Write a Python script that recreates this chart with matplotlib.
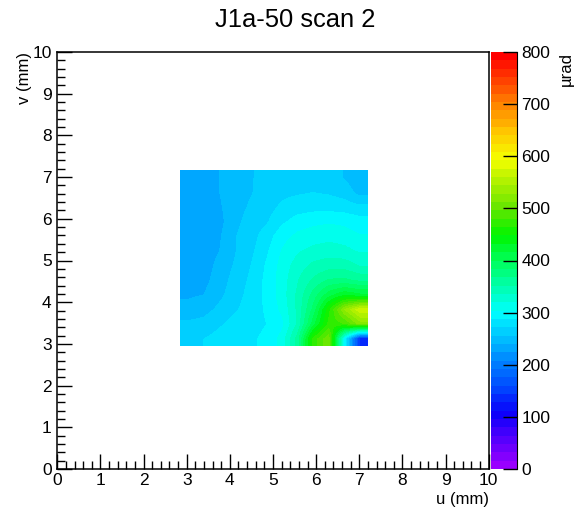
import numpy as np
import matplotlib
matplotlib.use("Agg")
import matplotlib.pyplot as plt
from matplotlib.colors import LinearSegmentedColormap, ListedColormap, Normalize
from matplotlib.ticker import MultipleLocator

plt.rcParams['font.family'] = ['Liberation Sans', 'DejaVu Sans']

title = "J1a-50 scan 2"
x_label = "u (mm)"
y_label = "v (mm)"
z_label = "µrad"

# cell centres of the measured map (mm)
u_centers = [3.03, 3.39, 3.76, 4.12, 4.48, 4.84, 5.21, 5.57, 5.93, 6.30, 6.66, 7.02]
v_centers = [6.98, 6.62, 6.28, 5.93, 5.58, 5.23, 4.88, 4.53, 4.18, 3.83, 3.48, 3.13]

# values (µrad), rows from top (v=6.98) to bottom (v=3.13)
row_698 = [235, 235, 240, 245, 255, 260, 265, 265, 265, 265, 255, 245]
row_662 = [230, 230, 240, 250, 255, 262, 268, 270, 272, 270, 265, 250]
row_628 = [228, 230, 238, 250, 258, 265, 275, 280, 282, 282, 280, 276]
row_593 = [225, 228, 235, 252, 262, 270, 285, 295, 300, 302, 300, 295]
row_558 = [225, 228, 238, 255, 265, 280, 298, 308, 312, 315, 312, 305]
row_523 = [228, 230, 240, 255, 268, 285, 305, 318, 325, 328, 325, 318]
row_488 = [230, 232, 245, 258, 272, 290, 310, 328, 340, 345, 345, 335]
row_453 = [232, 235, 248, 262, 275, 292, 312, 335, 355, 370, 372, 365]
row_418 = [238, 240, 252, 265, 278, 292, 312, 340, 375, 410, 430, 420]
row_383 = [245, 250, 260, 270, 280, 290, 308, 340, 390, 460, 530, 575]
row_348 = [260, 262, 270, 278, 282, 288, 300, 340, 410, 470, 480, 520]
row_313 = [270, 272, 278, 282, 285, 292, 310, 360, 470, 510, 300, 140]

values = np.array([row_698, row_662, row_628, row_593, row_558, row_523,
                   row_488, row_453, row_418, row_383, row_348, row_313], dtype=float)

z_min, z_max = 0, 800
n_contours = 50

# ROOT-like rainbow palette
anchors = [
    (0, (153, 0, 255)), (100, (10, 0, 250)), (150, (0, 70, 255)),
    (200, (0, 130, 255)), (250, (0, 195, 255)), (300, (0, 255, 255)),
    (350, (0, 255, 170)), (400, (0, 255, 90)), (450, (0, 245, 0)),
    (500, (100, 230, 0)), (550, (170, 240, 0)), (600, (245, 255, 0)),
    (650, (255, 200, 0)), (700, (255, 140, 0)), (750, (255, 70, 0)),
    (800, (255, 0, 0)),
]
base = LinearSegmentedColormap.from_list(
    "rootrainbow",
    [((v - z_min) / (z_max - z_min), tuple(c / 255 for c in rgb)) for v, rgb in anchors])
cmap = ListedColormap(base(np.linspace(0, 1, n_contours)))
norm = Normalize(vmin=z_min, vmax=z_max)

fig = plt.figure(figsize=(5.75, 5.22), dpi=100)
W, H = 575, 522
ax = fig.add_axes([57.3 / W, (H - 469) / H, (488.7 - 57.3) / W, 417 / H])
cax = fig.add_axes([491 / W, (H - 469) / H, 26 / W, 417 / H])

du = (u_centers[-1] - u_centers[0]) / (len(u_centers) - 1)
dv = (v_centers[0] - v_centers[-1]) / (len(v_centers) - 1)
extent = [u_centers[0] - du / 2, u_centers[-1] + du / 2,
          v_centers[-1] - dv / 2, v_centers[0] + dv / 2]
im = ax.imshow(values, extent=extent, origin="upper", cmap=cmap, norm=norm,
               interpolation="bilinear", interpolation_stage="data", aspect="auto")

ax.set_xlim(0, 10)
ax.set_ylim(0, 10)
ax.xaxis.set_major_locator(MultipleLocator(1))
ax.yaxis.set_major_locator(MultipleLocator(1))
ax.xaxis.set_minor_locator(MultipleLocator(0.2))
ax.yaxis.set_minor_locator(MultipleLocator(0.2))
ax.tick_params(which="both", direction="in", top=False, right=False, labelsize=12.5,
               width=1, colors="black")
ax.tick_params(which="major", length=11)
ax.tick_params(which="minor", length=5.5)
ax.tick_params(axis="x", pad=3)
ax.tick_params(axis="y", pad=4)
for s in ax.spines.values():
    s.set_linewidth(1.1)

ax.set_xlabel(x_label, fontsize=12, loc="right", labelpad=3)
ax.set_ylabel(y_label, fontsize=12, loc="top")
ax.yaxis.set_label_coords((32 - 57.3) / 431.4, 1.0)

cb = fig.colorbar(im, cax=cax)
cb.outline.set_visible(False)
cb.set_ticks(np.arange(0, 801, 100))
cax.tick_params(direction="in", length=10, width=1, labelsize=12.5, pad=3, right=True)
cax.spines['right'].set_visible(True)
fig.text(566 / W, 1 - 52 / H, z_label, rotation=90, ha="center", va="top", fontsize=12)

fig.text(295 / W, 1 - 20 / H, title, ha="center", va="center", fontsize=18.4)

fig.savefig("out.png", dpi=100)
